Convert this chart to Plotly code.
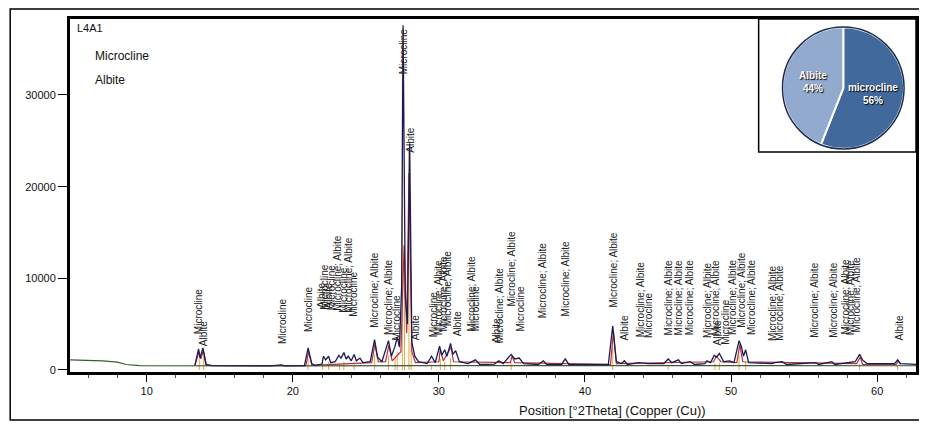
import plotly.graph_objects as go

# ---------------- data ----------------
# observed pattern (dark navy trace): 2theta, counts
obs_x = [13.3, 13.55, 13.65, 13.85, 14.05, 14.5, 18.5, 19.2, 19.5, 20.8, 21.05, 21.3, 21.5,
         22.0, 22.1, 22.25, 22.45, 22.6, 22.9, 23.15, 23.3, 23.5, 23.65, 23.8, 24.0, 24.2,
         24.35, 24.6, 24.8, 25.3, 25.6, 25.8, 26.1, 26.55, 26.75, 27.0, 27.15, 27.3, 27.45,
         27.55, 27.7, 27.85, 28.0, 28.15, 28.35, 28.6, 29.2, 29.5, 29.75, 30.05, 30.2, 30.4,
         30.55, 30.8, 30.95, 31.15, 31.4, 32.0, 32.5, 32.8, 33.8, 34.1, 34.4, 34.95, 35.2,
         35.5, 35.8, 36.8, 37.15, 37.4, 38.4, 38.65, 38.9, 41.6, 41.9, 42.15, 42.5, 42.7,
         42.9, 43.7, 44.3, 45.4, 45.7, 45.95, 46.4, 46.6, 47.2, 47.5, 48.2, 48.35, 48.6,
         48.85, 49.0, 49.2, 49.5, 49.9, 50.2, 50.55, 50.7, 50.85, 51.0, 51.2, 52.8, 53.0,
         53.5, 53.8, 55.8, 56.0, 56.9, 57.1, 58.5, 58.8, 59.0, 59.3, 61.2, 61.4, 61.6, 62.8]
obs_y = [500, 2300, 1300, 2400, 600, 480, 440, 560, 440, 470, 2400, 700, 500,
         650, 1500, 1100, 1500, 800, 900, 1600, 1300, 1900, 1200, 1500, 1000, 1700,
         1000, 1300, 800, 900, 3300, 1400, 900, 3200, 1500, 2600, 3600, 2500, 9000,
         37600, 8000, 5000, 24700, 3000, 1500, 900, 700, 1500, 800, 2600, 1600, 2200,
         1500, 2900, 1700, 2100, 900, 700, 1100, 600, 650, 1000, 700, 1700, 1200,
         1300, 700, 600, 1000, 600, 600, 1200, 600, 600, 4800, 900, 700, 1000,
         600, 800, 700, 700, 1200, 800, 1100, 700, 900, 600, 700, 1000, 800,
         1600, 1400, 1800, 900, 1000, 800, 3200, 2600, 1500, 2200, 800, 700, 800,
         900, 600, 800, 600, 900, 600, 900, 1700, 1100, 700, 700, 1100, 700, 600]

# background at low angle (greenish trace)
bg_x = [4.75, 6.0, 7.0, 8.0, 8.6, 9.5, 12.0, 13.3, 20.0, 30.0, 40.0, 50.0, 62.8]
bg_y = [1100, 1080, 1000, 850, 600, 480, 470, 480, 450, 480, 480, 470, 460]

# second (red) trace
red_x = [13.3, 13.58, 13.7, 13.88, 14.1, 20.9, 21.08, 21.3, 25.4, 25.62, 25.85, 26.35, 26.58,
         26.8, 27.4, 27.62, 27.8, 27.95, 28.15, 28.4, 30.0, 30.1, 30.3, 30.85, 31.0, 34.9,
         35.0, 35.2, 41.75, 41.95, 42.15, 48.8, 49.0, 49.3, 50.4, 50.6, 50.8, 58.6, 58.85,
         59.0, 61.3, 61.45, 61.6]
red_y = [500, 2000, 1200, 2100, 500, 480, 2000, 500, 800, 2800, 900, 900, 2700,
         1000, 2000, 13600, 4000, 21500, 2000, 800, 900, 2300, 1000, 2500, 900, 800,
         1500, 800, 600, 4200, 700, 900, 1500, 900, 800, 2800, 900, 700, 1400,
         600, 600, 1000, 600]

# reference stick pattern (orange)
stick_pos = [13.6, 13.9, 21.05, 22.05, 22.45, 23.2, 23.5, 24.2, 25.6, 26.55, 27.0, 27.15,
             27.5, 27.65, 27.95, 28.1, 29.5, 30.1, 30.4, 30.8, 34.95, 41.9, 45.7, 48.9,
             49.2, 50.55, 51.0, 58.8, 61.4]
stick_h = [1200, 1500, 1200, 900, 900, 700, 900, 800, 1700, 1600, 1500, 2000,
           36000, 13500, 24000, 3000, 600, 1200, 900, 1300, 700, 2500, 500, 700,
           800, 1600, 900, 700, 500]

# phase labels: position, text, intensity of text base
lab_pos = [13.55, 13.9, 19.28, 21.12, 22.0, 22.2, 22.45, 22.65, 23.1, 23.45, 23.8, 24.1,
           25.6, 26.55, 27.1, 27.55, 28.0, 28.45, 29.6, 30.0, 30.33, 30.55, 31.3, 32.25,
           32.5, 33.95, 34.15, 34.97, 35.6, 37.15, 38.65, 41.93, 42.68, 43.77, 44.3,
           45.75, 46.43, 47.18, 48.34, 48.9, 49.1, 49.6, 50.1, 50.7, 51.4, 52.84, 53.3,
           55.7, 57.0, 57.8, 58.2, 58.6, 61.5]
MA = "Microcline; Albite"
lab_text = ["Microcline", "Albite", "Microcline", "Microcline", "Albite", "Microcline",
            "Albite", "Microcline", MA, "Microcline", MA, "Microcline",
            MA, MA, "Microcline", "Microcline", "Albite", "Albite", "Microcline", MA, MA, MA,
            "Albite", MA, "Microcline", "Albite", MA, MA, "Microcline", MA, MA, MA, "Albite",
            MA, "Microcline", MA, MA, MA, MA, MA, "Albite", "Microcline", MA, MA, MA, MA, MA,
            MA, MA, MA, MA, MA, "Albite"]
lab_base = [3700, 2400, 2600, 3900, 6500, 6400, 6500, 6300, 6200, 6000, 6000, 5600,
            4400, 3600, 3000, 32000, 23500, 3000, 3300, 3600, 4000, 4600, 3500, 4000,
            4000, 2700, 2700, 6700, 4000, 5400, 5600, 6550, 2950, 3300, 3300,
            3600, 3600, 3600, 3300, 3600, 2500, 2500, 3600, 4360, 3600, 2950, 2950,
            3270, 3270, 3600, 3600, 3900, 2950]

# composition pie
pie_labels = ["microcline", "Albite"]
pie_values = [56, 44]

x_ticks = [10, 20, 30, 40, 50, 60]
y_ticks = [0, 10000, 20000, 30000]

# ---------------- figure ----------------
FONT = "Liberation Sans"
fig = go.Figure()

sx, sy = [], []
for p, h in zip(stick_pos, stick_h):
    sx += [p, p, None]
    sy += [0, h, None]
fig.add_trace(go.Scatter(x=sx, y=sy, mode="lines", line=dict(color="#E3A848", width=1),
                         hoverinfo="skip", showlegend=False))
fig.add_trace(go.Scatter(x=red_x, y=red_y, mode="lines", line=dict(color="#B8303A", width=1.2),
                         showlegend=False))
fig.add_trace(go.Scatter(x=bg_x, y=bg_y, mode="lines", line=dict(color="#3E5A35", width=1.2),
                         showlegend=False))
fig.add_trace(go.Scatter(x=obs_x, y=obs_y, mode="lines", line=dict(color="#1C1A55", width=1.3),
                         showlegend=False))

fig.add_trace(go.Pie(labels=pie_labels, values=pie_values, sort=False, direction="clockwise",
                     rotation=0, textposition="inside",
                     insidetextorientation="horizontal",
                     texttemplate="<b>%{label}</b><br><b>%{percent:.0%}</b>",
                     marker=dict(colors=["#41699C", "#93AACF"], line=dict(color="white", width=2)),
                     textfont=dict(family=FONT, size=10, color="white",
                                   shadow="1px 1px 1px #000"),
                     domain=dict(x=[0.8422, 0.9859], y=[0.6317, 0.9773]),
                     showlegend=False))

for p, t, b in zip(lab_pos, lab_text, lab_base):
    fig.add_annotation(x=p, y=b, text=t, textangle=-90, showarrow=False,
                       xanchor="center", yanchor="bottom",
                       font=dict(family=FONT, size=10, color="#222"))

shapes = [
    # outer frame
    dict(type="rect", xref="paper", yref="paper", x0=-0.0707, x1=1.008, y0=-0.136, y1=1.028,
         line=dict(color="black", width=1.5), layer="below"),
    # pie inset box
    dict(type="rect", xref="paper", yref="paper", x0=0.814, x1=1.0, y0=0.623, y1=1.0,
         line=dict(color="black", width=1.5), fillcolor="white", layer="below"),
    # pie rim
    dict(type="circle", xref="paper", yref="paper", x0=0.8422, x1=0.9859, y0=0.6317, y1=0.9773,
         line=dict(color="#1B2D4F", width=1.5), layer="above"),
]

annos = [
    dict(xref="paper", yref="paper", x=0.006, y=1.0, yshift=-1, text="L4A1", showarrow=False,
         xanchor="left", yanchor="top", font=dict(family=FONT, size=11, color="#111")),
    dict(xref="paper", yref="paper", x=0.027, y=0.894, text="Microcline", showarrow=False,
         xanchor="left", yanchor="middle", font=dict(family=FONT, size=12, color="#111")),
    dict(xref="paper", yref="paper", x=0.027, y=0.826, text="Albite", showarrow=False,
         xanchor="left", yanchor="middle", font=dict(family=FONT, size=12, color="#111")),
    dict(xref="paper", yref="paper", x=0.641, y=-0.108, text="Position [°2Theta] (Copper (Cu))",
         showarrow=False, xanchor="center", yanchor="middle",
         font=dict(family=FONT, size=13, color="#111")),
]
for a in annos:
    fig.add_annotation(**a)

fig.update_layout(
    width=911, height=413,
    margin=dict(l=62, r=0, t=11, b=49),
    paper_bgcolor="white", plot_bgcolor="white",
    shapes=shapes,
    font=dict(family=FONT, size=11, color="#111"),
)
fig.update_xaxes(range=[4.75, 62.66], tickvals=x_ticks, ticks="outside", ticklen=7,
                 tickwidth=1.2, tickcolor="black", showgrid=False, zeroline=False,
                 showline=True, linewidth=3, linecolor="black", mirror=True,
                 minor=dict(dtick=2, tick0=0, ticks="outside", ticklen=3, tickcolor="#444"),
                 tickfont=dict(family=FONT, size=11, color="#111"))
fig.update_yaxes(range=[-220, 38290], tickvals=y_ticks, tickformat="d", ticks="outside",
                 ticklen=9, tickwidth=1.2, tickcolor="black", showgrid=False, zeroline=False,
                 showline=True, linewidth=3, linecolor="black", mirror=True,
                 tickfont=dict(family=FONT, size=11, color="#111"))

fig.write_html("out.html")
